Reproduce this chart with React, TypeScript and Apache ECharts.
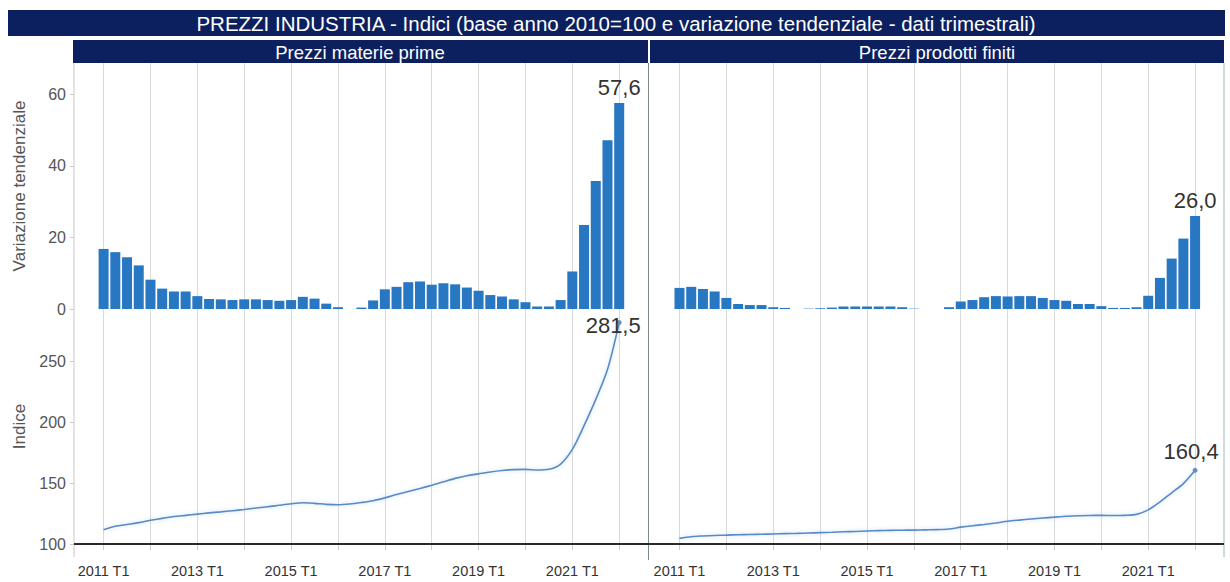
import React, { useEffect, useRef } from "react";
import * as echarts from "echarts";

const quarters: string[] = [
  "2011 T1", "2011 T2", "2011 T3", "2011 T4",
  "2012 T1", "2012 T2", "2012 T3", "2012 T4",
  "2013 T1", "2013 T2", "2013 T3", "2013 T4",
  "2014 T1", "2014 T2", "2014 T3", "2014 T4",
  "2015 T1", "2015 T2", "2015 T3", "2015 T4",
  "2016 T1", "2016 T2", "2016 T3", "2016 T4",
  "2017 T1", "2017 T2", "2017 T3", "2017 T4",
  "2018 T1", "2018 T2", "2018 T3", "2018 T4",
  "2019 T1", "2019 T2", "2019 T3", "2019 T4",
  "2020 T1", "2020 T2", "2020 T3", "2020 T4",
  "2021 T1", "2021 T2", "2021 T3", "2021 T4",
  "2022 T1",
];

// Prezzi materie prime - variazione tendenziale (%)
const rawYoY: number[] = [
  16.8, 15.9, 14.5, 12.2, 8.2, 5.7, 4.9, 4.9, 3.6, 2.8, 2.7, 2.5,
  2.7, 2.7, 2.5, 2.3, 2.5, 3.4, 2.9, 1.5, 0.5, -1.0, 0.4, 2.4,
  5.5, 6.2, 7.5, 7.7, 6.8, 7.2, 6.9, 6.0, 5.1, 3.9, 3.5, 2.7,
  1.9, 0.7, 0.7, 2.5, 10.5, 23.5, 35.8, 47.2, 57.6,
];
// Prezzi materie prime - indice (2010=100)
const rawIndex: number[] = [
  111.7, 114.5, 116.0, 117.5, 119.5, 121.0, 122.5, 123.5, 124.5, 125.5, 126.3, 127.3,
  128.3, 129.5, 130.5, 131.8, 133.0, 133.8, 133.3, 132.5, 132.2, 132.8, 134.0, 135.5,
  137.8, 140.5, 143.0, 145.5, 148.2, 151.0, 153.8, 156.0, 157.5, 159.0, 160.2, 161.0,
  161.2, 160.6, 161.2, 165.5, 177.5, 197.0, 218.5, 243.0, 281.5,
];
// Prezzi prodotti finiti - variazione tendenziale (%)
const finYoY: number[] = [
  5.9, 6.2, 5.6, 4.9, 3.1, 1.4, 1.1, 1.1, 0.5, 0.3, -0.2, 0.1,
  0.2, 0.4, 0.7, 0.7, 0.7, 0.7, 0.7, 0.5, 0.1, -0.3, -0.2, 0.5,
  2.1, 2.5, 3.3, 3.6, 3.5, 3.6, 3.6, 3.1, 2.5, 2.3, 1.4, 1.4,
  0.8, 0.3, 0.3, 0.5, 3.7, 8.7, 14.1, 19.7, 26.0,
];
// Prezzi prodotti finiti - indice (2010=100)
const finIndex: number[] = [
  104.6, 106.0, 106.6, 107.0, 107.3, 107.6, 107.8, 108.0, 108.2, 108.5, 108.7, 109.0,
  109.3, 109.6, 110.0, 110.3, 110.7, 111.0, 111.2, 111.3, 111.4, 111.6, 111.8, 112.3,
  113.8, 115.0, 116.0, 117.2, 118.6, 119.6, 120.5, 121.3, 122.0, 122.7, 123.2, 123.4,
  123.5, 123.3, 123.5, 124.3, 128.0, 134.5, 142.0, 149.5, 160.4,
];

const title = "PREZZI INDUSTRIA - Indici (base anno 2010=100 e variazione tendenziale - dati trimestrali)";
const panelTitles = ["Prezzi materie prime", "Prezzi prodotti finiti"];
const yNameTop = "Variazione tendenziale";
const yNameBottom = "Indice";

const fmt = (v: number) => v.toFixed(1).replace(".", ",");

export default function App() {
  const ref = useRef<HTMLDivElement>(null);
  useEffect(() => {
    document.body.style.margin = "0";
    const chart = echarts.init(ref.current!, null, { renderer: "svg" });
    const FONT = "Liberation Sans, Arial, sans-serif";
    const navy = "#0c1f5e";
    const barColor = "#2777c2";
    const lineColor = "#5a8ac2";
    const gridColor = "#dadada";

    const L0 = 103.6;
    const R0 = 679.5;
    const W = 515.6;
    const topT = 63;
    const topH = 246;
    const botT = 309;
    const botH = 235;

    const barSeries = (data: number[], idx: number) => ({
      type: "bar",
      xAxisIndex: idx,
      yAxisIndex: idx,
      barWidth: 10,
      clip: true,
      itemStyle: { color: barColor },
      data: data.map((v, i) =>
        i === data.length - 1
          ? {
              value: v,
              label: {
                show: true,
                position: "top",
                formatter: fmt(v),
                fontSize: 22,
                color: "#333",
                fontFamily: FONT,
              },
            }
          : v
      ),
    });

    const lineSeries = (data: number[], idx: number, offset: number[]) => ({
      type: "line",
      xAxisIndex: idx,
      yAxisIndex: idx,
      smooth: 0.3,
      symbol: "none",
      showSymbol: true,
      lineStyle: {
        color: lineColor,
        width: 1.6,
        shadowBlur: 4,
        shadowColor: "rgba(120,180,235,0.45)",
      },
      itemStyle: { color: "#6a8fb8" },
      data: data.map((v, i) =>
        i === data.length - 1
          ? {
              value: v,
              symbol: "circle",
              symbolSize: 5,
              label: {
                show: true,
                position: "top",
                offset,
                formatter: fmt(v),
                fontSize: 22,
                color: "#333",
                fontFamily: FONT,
              },
            }
          : v
      ),
    });

    const xTop = (gi: number) => ({
      type: "category",
      gridIndex: gi,
      data: quarters,
      boundaryGap: false,
      axisLine: { show: false },
      axisTick: { show: false },
      axisLabel: { show: false },
      splitLine: { show: true, interval: 3, lineStyle: { color: gridColor, width: 1 } },
    });
    const xBot = (gi: number) => ({
      type: "category",
      gridIndex: gi,
      data: quarters,
      boundaryGap: false,
      axisLine: { show: false },
      axisTick: { show: true, interval: 3, length: 6, lineStyle: { color: "#cfcfcf" } },
      axisLabel: {
        show: true,
        interval: 7,
        margin: 19,
        fontSize: 14.5,
        color: "#333",
        fontFamily: FONT,
      },
      splitLine: { show: true, interval: 3, lineStyle: { color: gridColor, width: 1 } },
    });

    const yCommon = {
      type: "value",
      offset: 29.6,
      nameLocation: "middle",
      nameGap: 46,
      nameRotate: 90,
      nameTextStyle: { fontSize: 17, color: "#555", fontFamily: FONT },
      axisLine: { show: false },
      axisTick: { show: true, length: 4, lineStyle: { color: "#c8c8c8" } },
      axisLabel: { showMaxLabel: false, fontSize: 16, color: "#555", margin: 8, fontFamily: FONT },
      splitLine: { show: false },
    };
    const yTop = (gi: number, show: boolean) => ({
      ...yCommon,
      gridIndex: gi,
      min: 0,
      max: 68.8,
      interval: 20,
      show,
      name: show ? yNameTop : "",
    });
    const yBot = (gi: number, show: boolean) => ({
      ...yCommon,
      gridIndex: gi,
      min: 100,
      max: 100 + botH / 1.22,
      interval: 50,
      show,
      name: show ? yNameBottom : "",
    });

    const vline = (x: number, color: string, y1 = 63, y2 = 557) => ({
      type: "line",
      z: 50,
      shape: { x1: x, y1, x2: x, y2 },
      style: { stroke: color, lineWidth: 1 },
    });

    const headerText = (x: number, text: string) => ({
      type: "text",
      z: 101,
      x,
      y: 52,
      style: {
        text,
        fill: "#ffffff",
        fontSize: 18.5,
        fontFamily: FONT,
        align: "center",
        verticalAlign: "middle",
      },
    });

    chart.setOption({
      animation: false,
      backgroundColor: "#ffffff",
      grid: [
        { left: L0, top: topT, width: W, height: topH },
        { left: L0, top: botT, width: W, height: botH },
        { left: R0, top: topT, width: W, height: topH },
        { left: R0, top: botT, width: W, height: botH },
      ],
      xAxis: [xTop(0), xBot(1), xTop(2), xBot(3)],
      yAxis: [yTop(0, true), yBot(1, true), yTop(2, false), yBot(3, false)],
      series: [
        barSeries(rawYoY, 0),
        lineSeries(rawIndex, 1, [-6, 21]),
        barSeries(finYoY, 2),
        lineSeries(finIndex, 3, [-4, 0]),
      ],
      graphic: [
        vline(74, "#c9c9c9"),
        vline(648.5, "#7f8a8a", 63, 560),
        vline(1224, "#9fb8b8"),
        {
          type: "line",
          z: 60,
          shape: { x1: 74, y1: 544, x2: 1224, y2: 544 },
          style: { stroke: "#2a2a2a", lineWidth: 2 },
        },
        {
          type: "rect",
          z: 100,
          shape: { x: 8, y: 10, width: 1217, height: 26 },
          style: { fill: navy },
        },
        {
          type: "text",
          z: 101,
          x: 616,
          y: 23,
          style: {
            text: title,
            fill: "#ffffff",
            fontSize: 20.5,
            fontFamily: FONT,
            align: "center",
            verticalAlign: "middle",
          },
        },
        {
          type: "rect",
          z: 100,
          shape: { x: 73, y: 40, width: 575, height: 23 },
          style: { fill: navy },
        },
        {
          type: "rect",
          z: 100,
          shape: { x: 650, y: 40, width: 574, height: 23 },
          style: { fill: navy },
        },
        headerText(360, panelTitles[0]),
        headerText(937, panelTitles[1]),
      ],
    });
    return () => chart.dispose();
  }, []);
  return <div ref={ref} style={{ width: 1230, height: 582 }} />;
}
